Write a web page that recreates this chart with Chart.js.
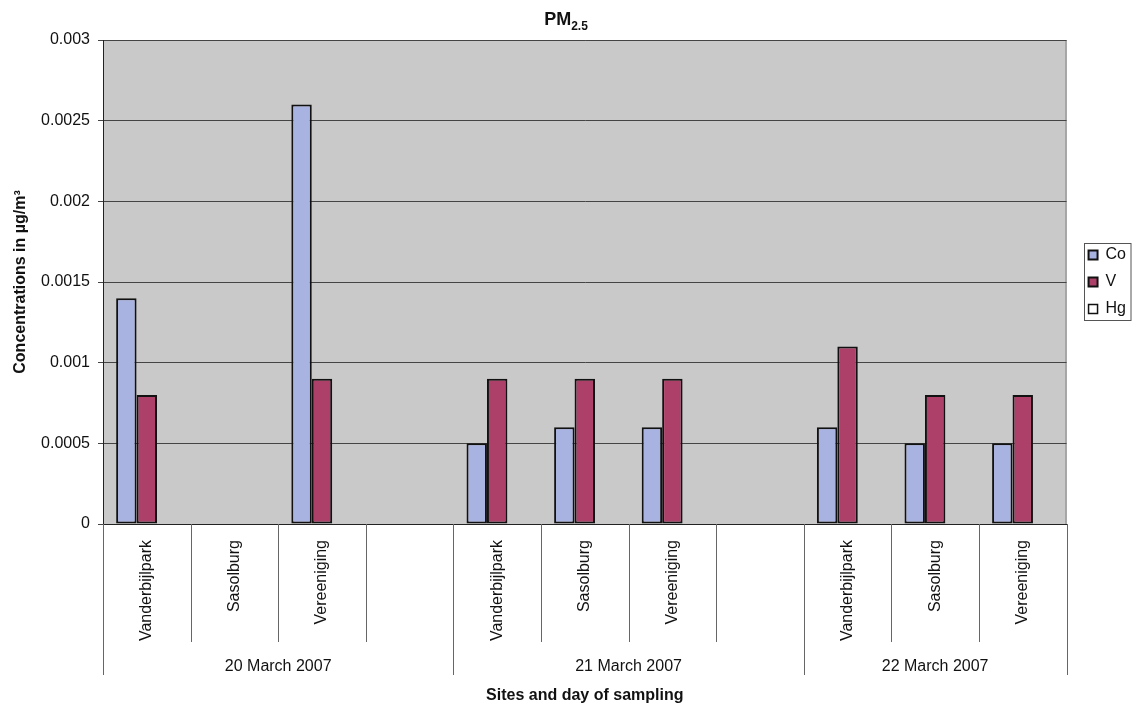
<!DOCTYPE html>
<html>
<head>
<meta charset="utf-8">
<script src="https://cdn.jsdelivr.net/npm/chart.js@4/dist/chart.umd.min.js"></script>
<style>
  html, body { margin: 0; padding: 0; background: #ffffff; }
  #wrap { width: 1132px; height: 709px; position: relative; }
</style>
</head>
<body>
<div id="wrap"><canvas id="chart" width="1132" height="709"></canvas></div>
<script>
// Sampling sites (blank slots separate the sampling days)
const siteLabels = ['Vanderbijlpark', 'Sasolburg', 'Vereeniging', '',
                    'Vanderbijlpark', 'Sasolburg', 'Vereeniging', '',
                    'Vanderbijlpark', 'Sasolburg', 'Vereeniging'];
// Sampling days and how many site slots each one spans
const dayLabels = ['20 March 2007', '21 March 2007', '22 March 2007'];
const daySpans = [4, 4, 3];

// Concentrations in µg/m³
const coValues = [0.0014, null, 0.0026, null, 0.0005, 0.0006, 0.0006, null, 0.0006, 0.0005, 0.0005];
const vValues  = [0.0008, null, 0.0009, null, 0.0009, 0.0009, 0.0009, null, 0.0011, 0.0008, 0.0008];
const hgValues = [null, null, null, null, null, null, null, null, null, null, null];

// Value axis ticks
const yTicks = [0, 0.0005, 0.001, 0.0015, 0.002, 0.0025, 0.003];

const titleMain = 'PM';
const titleSub = '2.5';
const xTitle = 'Sites and day of sampling';
const yTitle = 'Concentrations in µg/m³';

const FONT = "'Liberation Sans', Arial, sans-serif";
Chart.defaults.font.family = FONT;
Chart.defaults.color = '#111111';

// Grey plot area with a thin frame
const plotArea = {
  id: 'plotArea',
  beforeDraw(chart) {
    const { ctx, chartArea: a } = chart;
    ctx.save();
    ctx.fillStyle = '#c9c9c9';
    ctx.fillRect(a.left, a.top, a.right - a.left, a.bottom - a.top);
    ctx.strokeStyle = '#7a7a7a';
    ctx.lineWidth = 1;
    ctx.strokeRect(a.left + 0.5, a.top + 0.5, a.right - a.left - 1, a.bottom - a.top);
    ctx.restore();
  }
};

// Site separators and the second level of day labels under the category axis
const dayAxis = {
  id: 'dayAxis',
  afterDraw(chart) {
    const { ctx } = chart;
    const xs = chart.scales.x;
    const n = siteLabels.length;
    const slot = (xs.right - xs.left) / n;
    const base = chart.chartArea.bottom;
    const edges = new Set([0]);
    let acc = 0;
    daySpans.forEach(s => { acc += s; edges.add(acc); });
    ctx.save();
    ctx.strokeStyle = '#666666';
    ctx.lineWidth = 1;
    for (let i = 0; i <= n; i++) {
      const px = Math.round(xs.getPixelForTick(Math.min(i, n - 1)) + (i < n ? -slot / 2 : slot / 2)) + 0.5;
      const len = edges.has(i) ? 151 : 118;
      ctx.beginPath();
      ctx.moveTo(px, base);
      ctx.lineTo(px, base + len);
      ctx.stroke();
    }
    ctx.font = '16px ' + FONT;
    ctx.textAlign = 'center';
    ctx.textBaseline = 'middle';
    ctx.fillStyle = '#111111';
    let start = 0;
    dayLabels.forEach((lab, k) => {
      const cx = xs.left + (start + daySpans[k] / 2) * slot;
      ctx.fillText(lab, cx, base + 143);
      start += daySpans[k];
    });
    ctx.restore();
  }
};

// Chart title with subscript
const subTitle = {
  id: 'subTitle',
  afterDraw(chart) {
    const { ctx } = chart;
    ctx.save();
    ctx.fillStyle = '#111111';
    ctx.textBaseline = 'alphabetic';
    ctx.textAlign = 'left';
    ctx.font = 'bold 18px ' + FONT;
    const w1 = ctx.measureText(titleMain).width;
    ctx.font = 'bold 12px ' + FONT;
    const w2 = ctx.measureText(titleSub).width;
    const x0 = chart.width / 2 - (w1 + w2) / 2;
    ctx.font = 'bold 18px ' + FONT;
    ctx.fillText(titleMain, x0, 25);
    ctx.font = 'bold 12px ' + FONT;
    ctx.fillText(titleSub, x0 + w1, 30);
    ctx.restore();
  }
};

// Legend sits a little away from the plot and gets a frame
const legendFrame = {
  id: 'legendFrame',
  afterLayout(chart) {
    const lg = chart.legend;
    lg.left += 11;
    lg.right += 11;
  },
  afterDraw(chart) {
    const boxes = chart.legend.legendHitBoxes;
    if (!boxes || !boxes.length) return;
    const first = boxes[0], last = boxes[boxes.length - 1];
    const { ctx } = chart;
    ctx.save();
    ctx.strokeStyle = '#555555';
    ctx.lineWidth = 1;
    const l = Math.round(first.left - 5) + 0.5;
    const t = Math.round(first.top - 4) + 0.5;
    const b = Math.round(last.top + last.height + 3) + 0.5;
    ctx.strokeRect(l, t, chart.width - 1 - l, b - t);
    ctx.restore();
  }
};

new Chart(document.getElementById('chart'), {
  type: 'bar',
  data: {
    labels: siteLabels,
    datasets: [
      { label: 'Co', data: coValues, backgroundColor: '#a9b3e2', borderColor: '#111111', borderWidth: 2, borderSkipped: false },
      { label: 'V',  data: vValues,  backgroundColor: '#ad4068', borderColor: '#111111', borderWidth: 2, borderSkipped: false },
      { label: 'Hg', data: hgValues, backgroundColor: '#ffffff', borderColor: '#111111', borderWidth: 1.5, borderSkipped: false }
    ]
  },
  options: {
    responsive: false,
    animation: false,
    devicePixelRatio: 1,
    layout: { padding: { top: 40, right: 7, bottom: 0, left: 0 } },
    datasets: { bar: { barPercentage: 1, categoryPercentage: 0.7 } },
    plugins: {
      title: { display: false },
      tooltip: { enabled: false },
      legend: {
        position: 'right',
        fullSize: false,
        labels: { boxWidth: 9, boxHeight: 9, padding: 11, font: { size: 16 }, color: '#111111' }
      }
    },
    scales: {
      x: {
        grid: { display: false },
        border: { display: true, color: '#222222', width: 1 },
        ticks: { autoSkip: false, minRotation: 90, maxRotation: 90, padding: 8, font: { size: 16 }, color: '#111111' },
        title: { display: true, text: xTitle, font: { size: 16, weight: 'bold' }, padding: { top: 0, bottom: 4 }, color: '#111111' },
        afterFit(scale) { scale.height = 185; }
      },
      y: {
        min: 0,
        max: 0.003,
        afterBuildTicks(scale) { scale.ticks = yTicks.map(v => ({ value: v })); },
        grid: { color: '#444444', lineWidth: 1, drawTicks: true, tickLength: 5, tickColor: '#444444' },
        border: { color: '#222222', width: 1 },
        ticks: { padding: 8, font: { size: 16 }, color: '#111111', callback: v => String(v) },
        title: { display: true, text: yTitle, font: { size: 16, weight: 'bold' }, padding: { top: 11, bottom: 0 }, color: '#111111' },
        afterFit(scale) { scale.width = 103; }
      }
    }
  },
  plugins: [plotArea, dayAxis, subTitle, legendFrame]
});
</script>
</body>
</html>
